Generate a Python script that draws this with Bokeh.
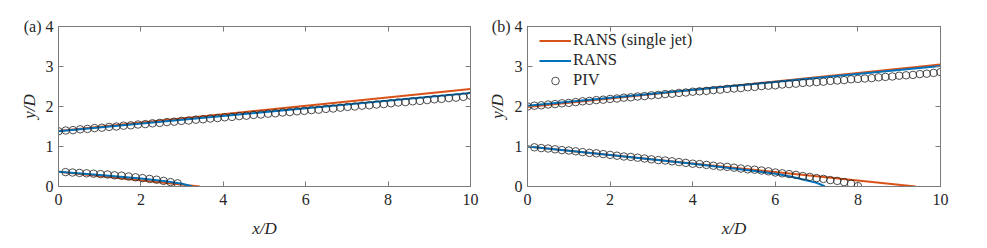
import numpy as np
from bokeh.plotting import figure
from bokeh.models import Range1d, LinearAxis, Legend, LegendItem, FixedTicker
from bokeh.layouts import row
from bokeh.embed import file_html
from bokeh.resources import INLINE

# ---------------- data ----------------
x_ticks = [0, 2, 4, 6, 8, 10]
y_ticks = [0, 1, 2, 3, 4]

# panel (a)
a_single_up_x = [0, 10]
a_single_up_y = [1.39, 2.44]
a_rans_up_x = [0, 10]
a_rans_up_y = [1.38, 2.34]
a_single_lo_x = [0, 3.43]
a_single_lo_y = [0.37, 0.0]
a_rans_lo_x = [0, 1.0, 2.0, 2.6, 3.0, 3.25]
a_rans_lo_y = [0.37, 0.29, 0.20, 0.13, 0.07, 0.0]

a_piv_up_dx = 10 / 57
a_piv_up_y = [1.38, 1.40, 1.41, 1.43, 1.44, 1.46, 1.47, 1.49, 1.50, 1.52,
              1.53, 1.55, 1.56, 1.58, 1.59, 1.61, 1.62, 1.64, 1.65, 1.67,
              1.68, 1.70, 1.71, 1.73, 1.74, 1.76, 1.77, 1.79, 1.80, 1.82,
              1.83, 1.85, 1.86, 1.88, 1.89, 1.91, 1.92, 1.94, 1.95, 1.97,
              1.99, 2.00, 2.02, 2.03, 2.05, 2.06, 2.08, 2.10, 2.11, 2.13,
              2.14, 2.16, 2.18, 2.19, 2.21, 2.22, 2.24, 2.27]
a_piv_lo_dx = 0.17
a_piv_lo_y = [0.36, 0.35, 0.34, 0.33, 0.32, 0.31, 0.30, 0.28, 0.27, 0.25,
              0.23, 0.21, 0.19, 0.17, 0.14, 0.11, 0.08]

# panel (b)
b_single_up_x = [0, 10]
b_single_up_y = [1.99, 3.05]
b_rans_up_x = [0, 10]
b_rans_up_y = [2.02, 3.01]
b_single_lo_x = [0, 9.4]
b_single_lo_y = [1.0, 0.0]
b_rans_lo_x = [0, 2.0, 4.0, 4.67, 5.5, 6.0, 6.28, 6.5, 6.77, 7.0, 7.1, 7.2]
b_rans_lo_y = [1.0, 0.79, 0.57, 0.49, 0.39, 0.32, 0.27, 0.22, 0.15, 0.09, 0.05, 0.0]

b_piv_up_dx = 1 / 6
b_piv_up_y = [2.00, 2.02, 2.03, 2.05, 2.06, 2.08, 2.09, 2.11, 2.13, 2.14,
              2.16, 2.17, 2.19, 2.20, 2.22, 2.23, 2.25, 2.26, 2.28, 2.29,
              2.31, 2.32, 2.34, 2.35, 2.37, 2.38, 2.39, 2.41, 2.42, 2.44,
              2.45, 2.46, 2.48, 2.49, 2.51, 2.52, 2.53, 2.55, 2.56, 2.57,
              2.59, 2.60, 2.61, 2.62, 2.64, 2.65, 2.66, 2.68, 2.69, 2.70,
              2.71, 2.73, 2.74, 2.75, 2.77, 2.78, 2.79, 2.81, 2.82, 2.84,
              2.86]
b_piv_lo_dx = 1 / 6
b_piv_lo_y = [0.98, 0.96, 0.95, 0.93, 0.91, 0.90, 0.88, 0.86, 0.84, 0.83,
              0.81, 0.79, 0.77, 0.75, 0.74, 0.72, 0.70, 0.68, 0.66, 0.65,
              0.63, 0.61, 0.59, 0.57, 0.56, 0.54, 0.52, 0.50, 0.49, 0.47,
              0.45, 0.43, 0.42, 0.40, 0.38, 0.35, 0.33, 0.31, 0.29, 0.26,
              0.24, 0.21, 0.19, 0.16, 0.14, 0.11, 0.07, 0.01]

ORANGE = "#D95319"
BLUE = "#0072BD"
AXC = "#7a7a7a"
TXT = "#262626"
FONT = "Liberation Serif"


def make_fig(width, bl, br, tag, pieces):
    p = figure(width=width, height=240, x_range=Range1d(0, 10), y_range=Range1d(0, 4),
               output_backend="svg", toolbar_location=None,
               min_border_left=bl, min_border_right=br, min_border_top=26, min_border_bottom=50)
    p.grid.visible = False
    p.outline_line_color = AXC
    p.background_fill_color = "white"

    p.xaxis.ticker = FixedTicker(ticks=x_ticks)
    p.yaxis.ticker = FixedTicker(ticks=y_ticks)
    for ax in (p.xaxis[0], p.yaxis[0]):
        ax.axis_line_color = AXC
        ax.major_tick_line_color = AXC
        ax.major_tick_in = 5
        ax.major_tick_out = 0
        ax.minor_tick_line_color = None
        ax.major_label_text_font = FONT
        ax.major_label_text_color = TXT
        ax.major_label_text_font_size = "16px"
        ax.axis_label_text_font = FONT
        ax.axis_label_text_font_style = "italic"
        ax.axis_label_text_font_size = "17px"
        ax.axis_label_text_color = TXT
    p.xaxis.axis_label = "x/D"
    p.yaxis.axis_label = "y/D"
    # panel tag sits right before the top tick label, as in the reference
    p.yaxis.major_label_overrides = {y_ticks[-1]: tag + " " + str(y_ticks[-1])}
    p.xaxis.major_label_standoff = 7
    p.xaxis.axis_label_standoff = 11
    p.yaxis.major_label_standoff = 5
    p.yaxis.axis_label_standoff = -18

    top = LinearAxis(ticker=FixedTicker(ticks=x_ticks))
    right = LinearAxis(ticker=FixedTicker(ticks=y_ticks))
    for ax in (top, right):
        ax.axis_line_color = AXC
        ax.major_tick_line_color = AXC
        ax.major_tick_in = 5
        ax.major_tick_out = 0
        ax.minor_tick_line_color = None
        ax.major_label_text_font_size = "1px"
        ax.major_label_text_color = None
        ax.major_label_standoff = 0
    p.add_layout(top, "above")
    p.add_layout(right, "right")

    (su_x, su_y, ru_x, ru_y, sl_x, sl_y, rl_x, rl_y,
     pu_dx, pu_y, pl_dx, pl_y, pl_x0) = pieces
    r_s = p.line(su_x, su_y, line_color=ORANGE, line_width=2)
    p.line(sl_x, sl_y, line_color=ORANGE, line_width=2)
    r_r = p.line(ru_x, ru_y, line_color=BLUE, line_width=2)
    p.line(rl_x, rl_y, line_color=BLUE, line_width=2)
    pu_x = [i * pu_dx for i in range(len(pu_y))]
    pl_x = [pl_x0 + i * pl_dx for i in range(len(pl_y))]
    r_p = p.scatter(pu_x, pu_y, marker="circle", size=7.5, fill_color=None,
                    line_color="#222222", line_width=0.8)
    p.scatter(pl_x, pl_y, marker="circle", size=7.5, fill_color=None,
              line_color="#222222", line_width=0.8)
    return p, r_s, r_r, r_p


pa, _, _, _ = make_fig(480, 58, 10, "(a)",
                       (a_single_up_x, a_single_up_y, a_rans_up_x, a_rans_up_y,
                        a_single_lo_x, a_single_lo_y, a_rans_lo_x, a_rans_lo_y,
                        a_piv_up_dx, a_piv_up_y, a_piv_lo_dx, a_piv_lo_y, 0.17))
pb, rs, rr, rp = make_fig(480, 47, 20, "(b)",
                          (b_single_up_x, b_single_up_y, b_rans_up_x, b_rans_up_y,
                           b_single_lo_x, b_single_lo_y, b_rans_lo_x, b_rans_lo_y,
                           b_piv_up_dx, b_piv_up_y, b_piv_lo_dx, b_piv_lo_y, 1 / 6))

legend = Legend(items=[LegendItem(label="RANS (single jet)", renderers=[rs]),
                       LegendItem(label="RANS", renderers=[rr]),
                       LegendItem(label="PIV", renderers=[rp])],
                location=(12, 96), border_line_color=None, background_fill_alpha=0,
                label_text_font=FONT, label_text_font_size="16.5px", label_text_color=TXT,
                glyph_width=32, glyph_height=19, label_height=19, label_standoff=2,
                spacing=0, padding=0, margin=0)
pb.add_layout(legend)

layout = row(pa, pb)
open("out.html", "w").write(file_html(layout, INLINE))
